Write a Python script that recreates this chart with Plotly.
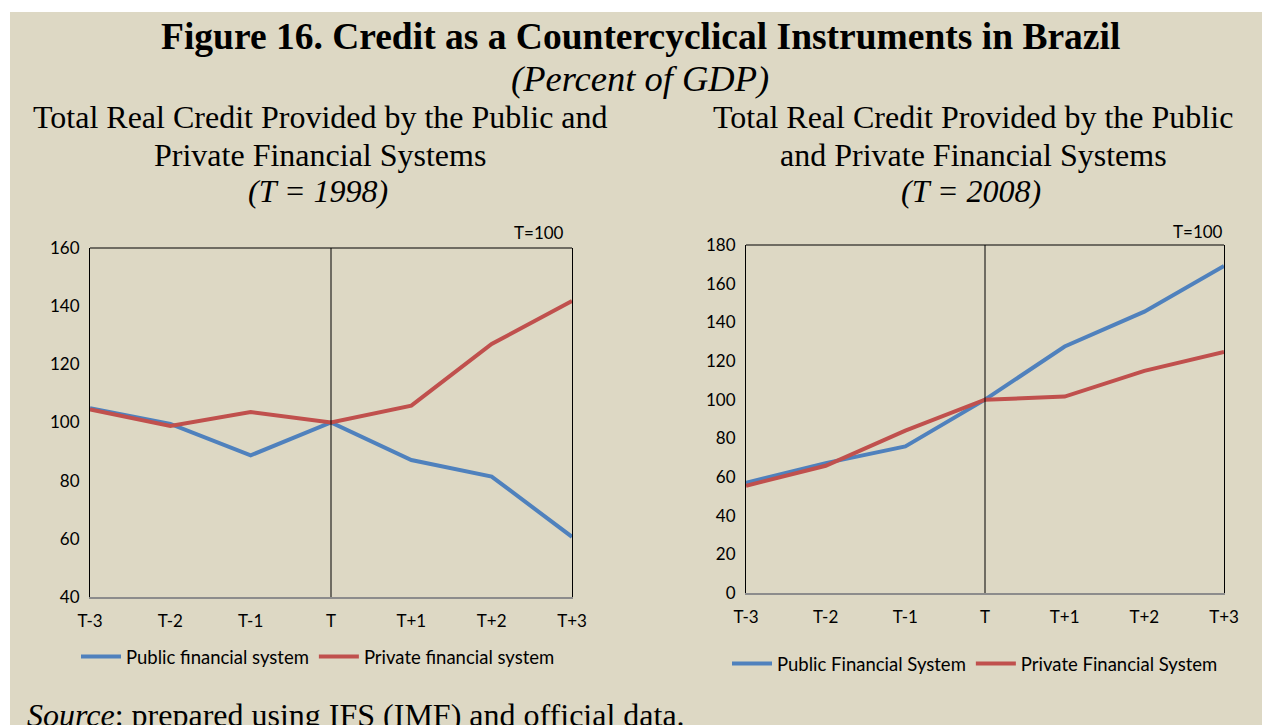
import plotly.graph_objects as go

categories = ["T-3", "T-2", "T-1", "T", "T+1", "T+2", "T+3"]
x_pos = list(range(len(categories)))

# Left panel (T = 1998)
public_1998 = [104.9, 99.5, 88.7, 100.0, 87.1, 81.4, 60.7]
private_1998 = [104.5, 98.8, 103.6, 100.0, 105.8, 127.0, 141.8]
# Right panel (T = 2008)
public_2008 = [57.0, 67.2, 75.8, 100.0, 127.5, 145.5, 169.1]
private_2008 = [55.5, 65.8, 84.0, 100.0, 101.6, 114.9, 124.7]

left_yticks = [40, 60, 80, 100, 120, 140, 160]
right_yticks = [0, 20, 40, 60, 80, 100, 120, 140, 160, 180]

BLUE = "#4F81BD"
RED = "#C0504D"
BEIGE = "#DDD8C4"
PLOT_BG = "#FDEADA"
W, H = 1262, 725
SANS = "Lato, Open Sans, sans-serif"
TICKFONT = dict(family=SANS, size=17, color="#000000")
SERIF = "Liberation Serif, Times New Roman, serif"

fig = go.Figure()

fig.add_trace(go.Scatter(x=x_pos, y=public_1998, mode="lines", name="Public financial system",
                         line=dict(color=BLUE, width=4), xaxis="x", yaxis="y", legend="legend"))
fig.add_trace(go.Scatter(x=x_pos, y=private_1998, mode="lines", name="Private financial system",
                         line=dict(color=RED, width=4), xaxis="x", yaxis="y", legend="legend"))
fig.add_trace(go.Scatter(x=x_pos, y=public_2008, mode="lines", name="Public Financial System",
                         line=dict(color=BLUE, width=4), xaxis="x2", yaxis="y2", legend="legend2"))
fig.add_trace(go.Scatter(x=x_pos, y=private_2008, mode="lines", name="Private Financial System",
                         line=dict(color=RED, width=4), xaxis="x2", yaxis="y2", legend="legend2"))

def px_x(v):
    return v / W

def px_y(v):
    return 1 - v / H

xcommon = dict(tickmode="array", tickvals=x_pos, ticktext=categories, range=[0, 6],
               showgrid=False, zeroline=False, showline=True, linecolor="#8C8C8C", linewidth=1.5,
               ticks="outside", ticklen=8, tickcolor="rgba(0,0,0,0)", tickfont=TICKFONT,
               fixedrange=True, automargin=False)
ycommon = dict(showgrid=False, zeroline=False, showline=True, mirror=True, linecolor="#000000",
               linewidth=1, ticks="outside", ticklen=6, tickcolor="rgba(0,0,0,0)", tickfont=TICKFONT,
               fixedrange=True, automargin=False)

legend_font = dict(family=SANS, size=18.5, color="#000")

fig.update_layout(
    width=W, height=H,
    margin=dict(l=0, r=0, t=0, b=0, autoexpand=False),
    paper_bgcolor="#FFFFFF",
    plot_bgcolor=PLOT_BG,
    xaxis=dict(domain=[px_x(90), px_x(572)], anchor="y", **xcommon),
    yaxis=dict(domain=[px_y(597), px_y(248)], anchor="x", range=[40, 160],
               tickvals=left_yticks, **ycommon),
    xaxis2=dict(domain=[px_x(746), px_x(1224)], anchor="y2", **xcommon),
    yaxis2=dict(domain=[px_y(593), px_y(245)], anchor="x2", range=[0, 180],
                tickvals=right_yticks, **ycommon),
    legend=dict(orientation="h", x=px_x(318), xanchor="center", y=px_y(657), yanchor="middle",
                bgcolor="rgba(0,0,0,0)", font=legend_font, itemwidth=40),
    legend2=dict(orientation="h", x=px_x(975), xanchor="center", y=px_y(664), yanchor="middle",
                 bgcolor="rgba(0,0,0,0)", font=legend_font, itemwidth=40),
    showlegend=True,
)

shapes = [
    # beige background panel
    dict(type="rect", xref="paper", yref="paper", x0=px_x(10), x1=1, y0=0, y1=px_y(12),
         fillcolor=BEIGE, line=dict(width=0), layer="below"),
    # vertical lines at T
    dict(type="line", xref="x", yref="y domain", x0=3, x1=3, y0=0, y1=1,
         line=dict(color="#000000", width=1)),
    dict(type="line", xref="x2", yref="y2 domain", x0=3, x1=3, y0=0, y1=1,
         line=dict(color="#000000", width=1)),
    # top borders
    dict(type="line", xref="x domain", yref="y domain", x0=0, x1=1, y0=1, y1=1,
         line=dict(color="#000000", width=1)),
    dict(type="line", xref="x2 domain", yref="y2 domain", x0=0, x1=1, y0=1, y1=1,
         line=dict(color="#000000", width=1)),
]
fig.update_layout(shapes=shapes)

annotations = [
    dict(text="<b>Figure 16. Credit as a Countercyclical Instruments in Brazil</b>",
         x=px_x(640), y=px_y(36), font=dict(family=SERIF, size=37.5, color="#000")),
    dict(text="<i>(Percent of GDP)</i>", x=px_x(640), y=px_y(78),
         font=dict(family=SERIF, size=36.5, color="#000")),
    dict(text="Total Real Credit Provided by the Public and", x=px_x(320), y=px_y(117),
         font=dict(family=SERIF, size=32, color="#000")),
    dict(text="Private Financial Systems", x=px_x(320), y=px_y(155),
         font=dict(family=SERIF, size=32, color="#000")),
    dict(text="<i>(T = 1998)</i>", x=px_x(318), y=px_y(191),
         font=dict(family=SERIF, size=32, color="#000")),
    dict(text="Total Real Credit Provided by the Public", x=px_x(973), y=px_y(117),
         font=dict(family=SERIF, size=32, color="#000")),
    dict(text="and Private Financial Systems", x=px_x(973), y=px_y(155),
         font=dict(family=SERIF, size=32, color="#000")),
    dict(text="<i>(T = 2008)</i>", x=px_x(971), y=px_y(191),
         font=dict(family=SERIF, size=32, color="#000")),
    dict(text="T=100", x=px_x(566), y=px_y(232), xanchor="right",
         font=dict(family=SANS, size=17, color="#000")),
    dict(text="T=100", x=px_x(1225), y=px_y(231), xanchor="right",
         font=dict(family=SANS, size=17, color="#000")),
    dict(text="<i>Source</i>: prepared using IFS (IMF) and official data.", x=px_x(25), y=px_y(715),
         xanchor="left", font=dict(family=SERIF, size=32, color="#000")),
]
for a in annotations:
    a.setdefault("xanchor", "center")
    a.update(xref="paper", yref="paper", yanchor="middle", showarrow=False)
fig.update_layout(annotations=annotations)

fig.write_html(
    "out.html",
    config={"displayModeBar": False},
    post_script="document.body.style.margin='0';document.body.style.overflow='hidden';",
)
